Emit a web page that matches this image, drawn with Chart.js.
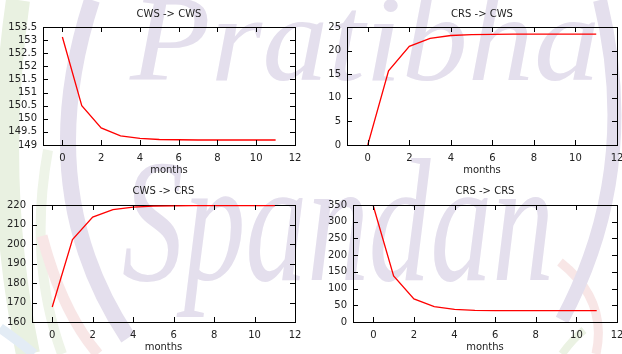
<!DOCTYPE html>
<html>
<head>
<meta charset="utf-8">
<script src="https://cdn.jsdelivr.net/npm/chart.js@4"></script>
<style>
  html, body { margin: 0; padding: 0; background: #fff; }
  #page { position: relative; width: 622px; height: 354px; overflow: hidden; background: #fff; }
  #bg { position: absolute; left: 0; top: 0; }
  canvas { position: absolute; }
</style>
</head>
<body>
<div id="page">
  <svg id="bg" width="622" height="354" viewBox="0 0 622 354">
    <path d="M18 0 Q -8 180 28 354" stroke="#e9f1e1" stroke-width="24" fill="none"/>
    <path d="M48 150 Q 28 260 62 354" stroke="#eef4e8" stroke-width="10" fill="none"/>
    <path d="M0 328 Q 20 342 34 354" stroke="#e3ecf5" stroke-width="10" fill="none"/>
    <path d="M42 236 Q 62 312 98 354" stroke="#f8e6e6" stroke-width="11" fill="none"/>
    <path d="M560 262 Q 608 300 596 354" stroke="#f8e6e6" stroke-width="9" fill="none"/>
    <path d="M562 354 Q 572 340 584 330" stroke="#ebf2e3" stroke-width="8" fill="none"/>
    <path d="M92 0 Q 30 190 128 338" stroke="#e4dfed" stroke-width="16" fill="none"/>
    <path d="M600 0 Q 642 170 562 320" stroke="#e4dfed" stroke-width="14" fill="none"/>
    <text x="130" y="80" font-family="Liberation Serif" font-style="italic" font-size="122"
          fill="#e4dfed" textLength="470" lengthAdjust="spacingAndGlyphs">Pratibha</text>
    <text x="122" y="280" font-family="Liberation Serif" font-style="italic" font-size="175"
          fill="#e4dfed" textLength="432" lengthAdjust="spacingAndGlyphs">Spandan</text>
  </svg>
  <canvas id="c1" width="311" height="177" style="left:0;top:0"></canvas>
  <canvas id="c2" width="311" height="177" style="left:311px;top:0"></canvas>
  <canvas id="c3" width="311" height="177" style="left:0;top:177px"></canvas>
  <canvas id="c4" width="311" height="177" style="left:311px;top:177px"></canvas>
</div>
<script>
// months since start and the x tick labels
const months = [0, 1, 2, 3, 4, 5, 6, 7, 8, 9, 10, 11];
const monthTicks = [0, 2, 4, 6, 8, 10, 12];

// transition counts per month
const cwsToCws = [153.12, 150.5, 149.65, 149.35, 149.25, 149.21, 149.2, 149.19, 149.19, 149.19, 149.19, 149.19];
const crsToCws = [0, 15.7, 20.9, 22.6, 23.2, 23.4, 23.45, 23.5, 23.5, 23.5, 23.5, 23.5];
const cwsToCrs = [167.7, 202.3, 213.8, 217.6, 218.9, 219.4, 219.6, 219.7, 219.7, 219.7, 219.7, 219.7];
const crsToCrs = [347, 138, 69, 46, 38, 35, 34.2, 34, 34, 34, 34, 34];

// y tick labels
const cwsToCwsTicks = [149, 149.5, 150, 150.5, 151, 151.5, 152, 152.5, 153, 153.5];
const crsToCwsTicks = [0, 5, 10, 15, 20, 25];
const cwsToCrsTicks = [160, 170, 180, 190, 200, 210, 220];
const crsToCrsTicks = [0, 50, 100, 150, 200, 250, 300, 350];

const font = { family: 'DejaVu Sans', size: 10, weight: 'normal' };
const ink = '#222';

function setTicks(values) {
  return scale => { scale.ticks = values.map(v => ({ value: v })); };
}

// gnuplot-style tick marks: pointing inward, mirrored on all four sides
const innerTicks = {
  id: 'innerTicks',
  afterDraw(chart) {
    const ctx = chart.ctx;
    const a = chart.chartArea;
    const xs = chart.scales.x, ys = chart.scales.y;
    const len = 5;
    ctx.save();
    ctx.strokeStyle = '#000';
    ctx.lineWidth = 1;
    ctx.beginPath();
    for (let i = 0; i < xs.ticks.length; i++) {
      const px = Math.round(xs.getPixelForTick(i)) + 0.5;
      ctx.moveTo(px, a.bottom);
      ctx.lineTo(px, a.bottom - len);
      ctx.moveTo(px, a.top);
      ctx.lineTo(px, a.top + len);
    }
    for (let i = 0; i < ys.ticks.length; i++) {
      const py = Math.round(ys.getPixelForTick(i)) + 0.5;
      ctx.moveTo(a.left, py);
      ctx.lineTo(a.left + len, py);
      ctx.moveTo(a.right, py);
      ctx.lineTo(a.right - len, py);
    }
    ctx.stroke();
    ctx.restore();
  }
};

const frame = { display: false, drawOnChartArea: false, drawTicks: false };
const border = { display: true, color: '#000', width: 1 };

function makeChart(id, title, values, yTicks, box) {
  const yMin = yTicks[0], yMax = yTicks[yTicks.length - 1];
  return new Chart(document.getElementById(id), {
    type: 'line',
    data: {
      datasets: [{
        data: months.map((m, i) => ({ x: m, y: values[i] })),
        borderColor: '#ff0000',
        borderWidth: 1.3,
        pointRadius: 0,
        tension: 0,
        fill: false
      }]
    },
    options: {
      responsive: false,
      animation: false,
      devicePixelRatio: 1,
      events: [],
      layout: { padding: { left: 0, right: box.right, top: 0, bottom: 0 } },
      plugins: {
        legend: { display: false },
        tooltip: { enabled: false },
        title: {
          display: true,
          text: title,
          color: ink,
          font: font,
          fullSize: false,
          padding: { top: 8, bottom: box.top - 20 }
        }
      },
      scales: {
        x: {
          type: 'linear', position: 'bottom', min: -1, max: 12,
          afterBuildTicks: setTicks(monthTicks),
          grid: frame,
          border: border,
          ticks: { padding: 7, color: ink, font: font, maxRotation: 0, autoSkip: false, callback: v => String(v) },
          title: { display: true, text: 'months', color: ink, font: font, padding: { top: 0, bottom: 1 } },
          afterFit: s => { s.height = 32; s.paddingLeft = 0; s.paddingRight = 0; }
        },
        x2: {
          type: 'linear', position: 'top', min: -1, max: 12,
          grid: frame,
          border: border,
          ticks: { display: false },
          afterFit: s => { s.height = 0; s.paddingLeft = 0; s.paddingRight = 0; }
        },
        y: {
          type: 'linear', position: 'left', min: yMin, max: yMax,
          afterBuildTicks: setTicks(yTicks),
          grid: frame,
          border: border,
          ticks: { padding: 6, color: ink, font: font, autoSkip: false, callback: v => String(v) },
          afterFit: s => { s.width = box.left; s.paddingTop = 0; s.paddingBottom = 0; }
        },
        y2: {
          type: 'linear', position: 'right', min: yMin, max: yMax,
          grid: frame,
          border: border,
          ticks: { display: false },
          afterFit: s => { s.width = 0; s.paddingTop = 0; s.paddingBottom = 0; }
        }
      }
    },
    plugins: [innerTicks]
  });
}

makeChart('c1', 'CWS -> CWS', cwsToCws, cwsToCwsTicks, { left: 43, right: 16, top: 27 });
makeChart('c2', 'CRS -> CWS', crsToCws, crsToCwsTicks, { left: 36, right: 5, top: 27 });
makeChart('c3', 'CWS -> CRS', cwsToCrs, cwsToCrsTicks, { left: 32, right: 16, top: 28 });
makeChart('c4', 'CRS -> CRS', crsToCrs, crsToCrsTicks, { left: 42, right: 5, top: 28 });
</script>
</body>
</html>
